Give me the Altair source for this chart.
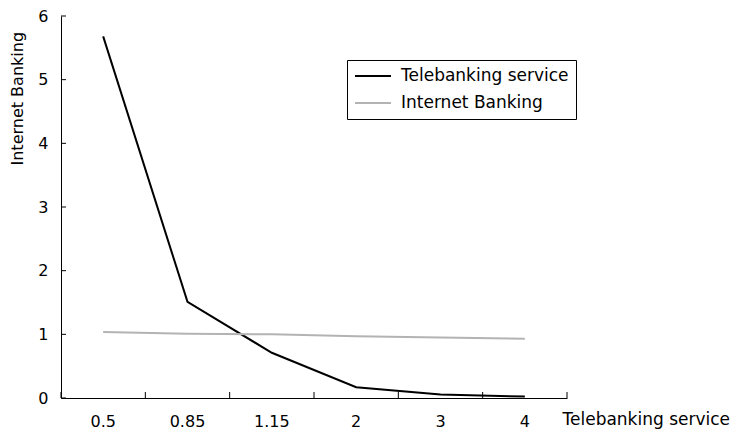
import altair as alt
import pandas as pd

categories = ["0.5", "0.85", "1.15", "2", "3", "4"]
telebanking = [5.68, 1.51, 0.71, 0.17, 0.055, 0.023]
internet = [1.035, 1.01, 1.0, 0.97, 0.95, 0.93]
series_names = ["Telebanking service", "Internet Banking"]
series_colors = ["#000000", "#b3b3b3"]
y_ticks = [0, 1, 2, 3, 4, 5, 6]

FONT = "DejaVu Sans"
W, H = 506, 382

rows = []
for c, t, i in zip(categories, telebanking, internet):
    rows.append({"cat": c, "value": t, "series": series_names[0]})
    rows.append({"cat": c, "value": i, "series": series_names[1]})
df = pd.DataFrame(rows)

xscale = alt.Scale(domain=categories, paddingInner=0, paddingOuter=0)
yscale = alt.Scale(domain=[0, 6])

lines = alt.Chart(df).mark_line(strokeWidth=2).encode(
    x=alt.X("cat:N", scale=xscale, sort=categories,
            axis=alt.Axis(title="Telebanking service", labelAngle=0, ticks=False,
                          domainColor="black", domainWidth=1,
                          labelFont=FONT, labelFontSize=16, labelColor="black",
                          labelPadding=15, titleFont=FONT, titleFontSize=17,
                          titleFontWeight="normal", titleColor="black",
                          titleAnchor="start", titleAlign="left",
                          titleX=501, titleY=21, titleBaseline="middle")),
    y=alt.Y("value:Q", scale=yscale,
            axis=alt.Axis(title="Internet Banking", values=y_ticks, format="d",
                          ticks=False, grid=False, domainColor="black", domainWidth=1,
                          labelFont=FONT, labelFontSize=16, labelColor="black",
                          labelPadding=13, titleFont=FONT, titleFontSize=16,
                          titleFontWeight="normal", titleColor="black",
                          titleAngle=-90, titleAlign="left", titleBaseline="middle",
                          titleX=-44, titleY=149)),
    color=alt.Color("series:N", scale=alt.Scale(domain=series_names, range=series_colors),
                    legend=alt.Legend(title=None, orient="none", legendX=286, legendY=44,
                                      strokeColor="black", padding=7,
                                      symbolType="stroke", symbolSize=1296,
                                      symbolStrokeWidth=2, labelFont=FONT,
                                      labelFontSize=17, labelColor="black",
                                      labelOffset=9, labelLimit=400,
                                      clipHeight=18, rowPadding=9)),
)

ytick_df = pd.DataFrame({"v": y_ticks})
yticks = alt.Chart(ytick_df).mark_rule(color="black", strokeWidth=1).encode(
    y=alt.Y("v:Q", scale=yscale),
    x=alt.value(0), x2=alt.value(5),
)

xtick_df = pd.DataFrame({"cat": categories})
xticks = alt.Chart(xtick_df).mark_rule(color="black", strokeWidth=1).encode(
    x=alt.X("cat:N", scale=xscale, sort=categories, bandPosition=0),
    y=alt.value(H), y2=alt.value(H - 6),
)
xend = alt.Chart(pd.DataFrame({"cat": categories[-1:]})).mark_rule(color="black", strokeWidth=1).encode(
    x=alt.X("cat:N", scale=xscale, sort=categories, bandPosition=1),
    y=alt.value(H), y2=alt.value(H - 6),
)

chart = alt.layer(lines, yticks, xticks, xend).properties(
    width=W, height=H,
    autosize=alt.AutoSizeParams(type="none"),
    padding={"left": 53, "top": 8, "right": 168, "bottom": 32},
    background="white",
).configure_view(stroke=None)

chart.save("out.html", embed_options={"renderer": "svg", "actions": False})
